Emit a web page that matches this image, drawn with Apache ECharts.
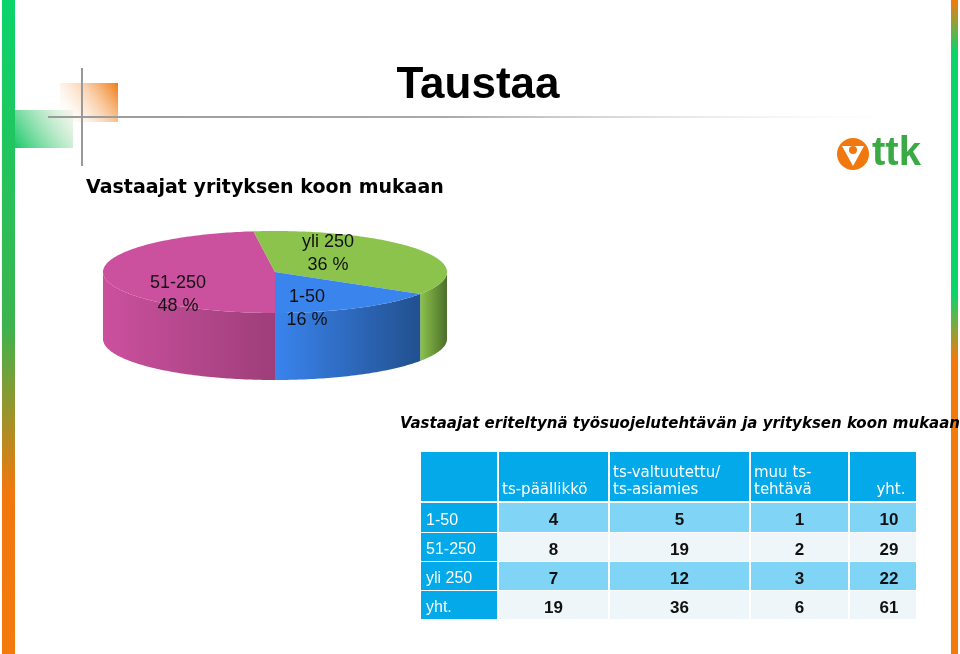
<!DOCTYPE html>
<html><head><meta charset="utf-8">
<script src="https://cdn.jsdelivr.net/npm/echarts@6/dist/echarts.min.js"></script>
<style>html,body{margin:0;padding:0;background:#fff}#c{width:960px;height:654px}</style>
</head><body><div id="c"></div>
<script>
const sizeNames = ['51-250','yli 250','1-50'];
const sizePct = [48, 36, 16];
const topColors = ['#CB509E','#8CC34C','#3A84EE'];
const sideColors = ['#9E3E7A','#4C6E2A','#22508F'];
const colHeaders = ['', 'ts-päällikkö', 'ts-valtuutettu/\nts-asiamies', 'muu ts-\ntehtävä', 'yht.'];
const rowNames = ['1-50','51-250','yli 250','yht.'];
const tsPaallikko = [4, 8, 7, 19];
const tsValtuutettu = [5, 19, 12, 36];
const muuTehtava = [1, 2, 3, 6];
const yht = [10, 29, 22, 61];

const labelPos = [[178,295],[328,254],[307,309]];
const F = '"DejaVu Sans", Arial';
const L = '"Liberation Sans", Arial';
const chart = echarts.init(document.getElementById('c'));
const cx = 275, cy = 272, rx = 172, ry = 41, depth = 67;
const total = sizePct.reduce((a,b)=>a+b,0);
const startDeg = 180;
function pt(deg, dy){ const a = deg*Math.PI/180; return [cx + rx*Math.sin(a), cy - ry*Math.cos(a) + (dy||0)]; }

function renderSlice(params, api){
  const i = params.dataIndex;
  let cum = 0; for (let k=0;k<i;k++) cum += sizePct[k];
  const a0 = startDeg + cum/total*360, a1 = startDeg + (cum+sizePct[i])/total*360;
  const children = [];
  const tp = [[cx,cy]];
  for (let d=a0; d<=a1+0.001; d+=1) tp.push(pt(Math.min(d,a1)));
  tp.push(pt(a1));
  const segs = [];
  for (let off of [0,360,-360]) {
    const s = Math.max(a0, 90+off), e = Math.min(a1, 270+off);
    if (e > s) segs.push([s,e]);
  }
  segs.forEach(([s,e])=>{
    const p = [];
    for (let d=s; d<e; d+=1) p.push(pt(d));
    p.push(pt(e));
    for (let d=e; d>s; d-=1) p.push(pt(d, depth));
    p.push(pt(s, depth));
    children.push({type:'polygon', z2:1, shape:{points:p}, style:{fill:new echarts.graphic.LinearGradient(0,0,1,0,[{offset:0,color:topColors[i]},{offset:1,color:sideColors[i]}])}});
  });
  children.push({type:'polygon', z2:5, shape:{points:tp}, style:{fill:topColors[i]}});
  children.push({type:'text', z2:10, style:{text:sizeNames[i]+'\n'+sizePct[i]+' %', x:labelPos[i][0], y:labelPos[i][1], align:'center', verticalAlign:'middle', font:'18px '+L, fill:'#111', lineHeight:23}});
  return {type:'group', children};
}

const colX = [420, 498, 609, 750, 849, 917];
const rowY = [452, 503, 533, 562, 591, 620];
const cols = [tsPaallikko, tsValtuutettu, muuTehtava, yht];
const g = [];
for (let c=0;c<5;c++){
  g.push({type:'rect', shape:{x:colX[c]+1,y:rowY[0],width:colX[c+1]-colX[c]-2,height:rowY[1]-rowY[0]-2}, style:{fill:'#03A9E9'}});
  g.push({type:'text', style:{text:colHeaders[c], x:c===4?colX[c]+(colX[c+1]-colX[c])/2+8:colX[c]+4, y:rowY[1]-4, align:c===4?'center':'left', verticalAlign:'bottom', font:'15px '+F, fill:'#fff', lineHeight:17}});
}
for (let r=0;r<4;r++){
  const y0=rowY[r+1], h=rowY[r+2]-y0-1;
  g.push({type:'rect', shape:{x:colX[0]+1,y:y0,width:colX[1]-colX[0]-2,height:h}, style:{fill:'#03A9E9'}});
  g.push({type:'text', style:{text:rowNames[r], x:colX[0]+6, y:y0+h/2+3, verticalAlign:'middle', font:'16px '+L, fill:'#fff'}});
  for (let c=0;c<4;c++){
    g.push({type:'rect', shape:{x:colX[c+1]+1,y:y0,width:colX[c+2]-colX[c+1]-2,height:h}, style:{fill:r%2===0?'#80D5F6':'#EEF6F9'}});
    g.push({type:'text', style:{text:String(cols[c][r]), x:(colX[c+1]+colX[c+2])/2+(c===3?6:0), y:y0+h/2+3, align:'center', verticalAlign:'middle', font:'bold 17px '+L, fill:'#111'}});
  }
}
g.push({type:'rect', shape:{x:2,y:0,width:13,height:654}, style:{fill:new echarts.graphic.LinearGradient(0,0,0,1,[{offset:0,color:'#0BD46B'},{offset:0.5,color:'#3DB34E'},{offset:0.75,color:'#F0780E'},{offset:1,color:'#F57A0C'}])}});
g.push({type:'rect', shape:{x:951,y:0,width:7,height:654}, style:{fill:new echarts.graphic.LinearGradient(0,0,0,1,[{offset:0,color:'#F57A0C'},{offset:0.08,color:'#0BD46B'},{offset:0.45,color:'#0BD46B'},{offset:0.55,color:'#F57A0C'},{offset:1,color:'#F57A0C'}])}});
g.push({type:'rect', shape:{x:60,y:83,width:58,height:39}, style:{fill:new echarts.graphic.LinearGradient(1,0,0,1,[{offset:0,color:'#F07A12'},{offset:1,color:'rgba(255,255,255,0)'}])}});
g.push({type:'rect', shape:{x:15,y:110,width:58,height:38}, style:{fill:new echarts.graphic.LinearGradient(0,1,1,0,[{offset:0,color:'#19C86A'},{offset:1,color:'rgba(240,240,225,0.5)'}])}});
g.push({type:'line', shape:{x1:48,y1:117,x2:940,y2:117}, style:{stroke:new echarts.graphic.LinearGradient(0,0,1,0,[{offset:0,color:'#999'},{offset:0.45,color:'#aaa'},{offset:1,color:'rgba(255,255,255,0)'}]), lineWidth:2}});
g.push({type:'line', shape:{x1:82,y1:68,x2:82,y2:166}, style:{stroke:'#999', lineWidth:2}});
g.push({type:'circle', shape:{cx:853,cy:154,r:16}, style:{fill:'#F0780E'}});
g.push({type:'polygon', shape:{points:[[842,146],[864,146],[853,166]]}, style:{fill:'#fff'}});
g.push({type:'circle', shape:{cx:853,cy:150,r:4}, style:{fill:'#F0780E'}});
g.push({type:'text', style:{text:'ttk', x:872, y:154, verticalAlign:'middle', font:'bold 40px '+L, fill:'#3BAA45'}});
g.push({type:'text', style:{text:'Taustaa', x:478, y:86, align:'center', verticalAlign:'middle', font:'bold 44px '+L, fill:'#000'}});
g.push({type:'text', style:{text:'Vastaajat yrityksen koon mukaan', x:86, y:188, verticalAlign:'middle', font:'bold 19px '+F, fill:'#000'}});
g.push({type:'text', style:{text:'Vastaajat eriteltynä työsuojelutehtävän ja yrityksen koon mukaan', x:400, y:424, verticalAlign:'middle', font:'italic bold 15px '+F, fill:'#000'}});

chart.setOption({
  animation:false,
  graphic:g,
  series:[{type:'custom', coordinateSystem:'none', data:sizePct, renderItem:renderSlice}]
});
</script></body></html>
